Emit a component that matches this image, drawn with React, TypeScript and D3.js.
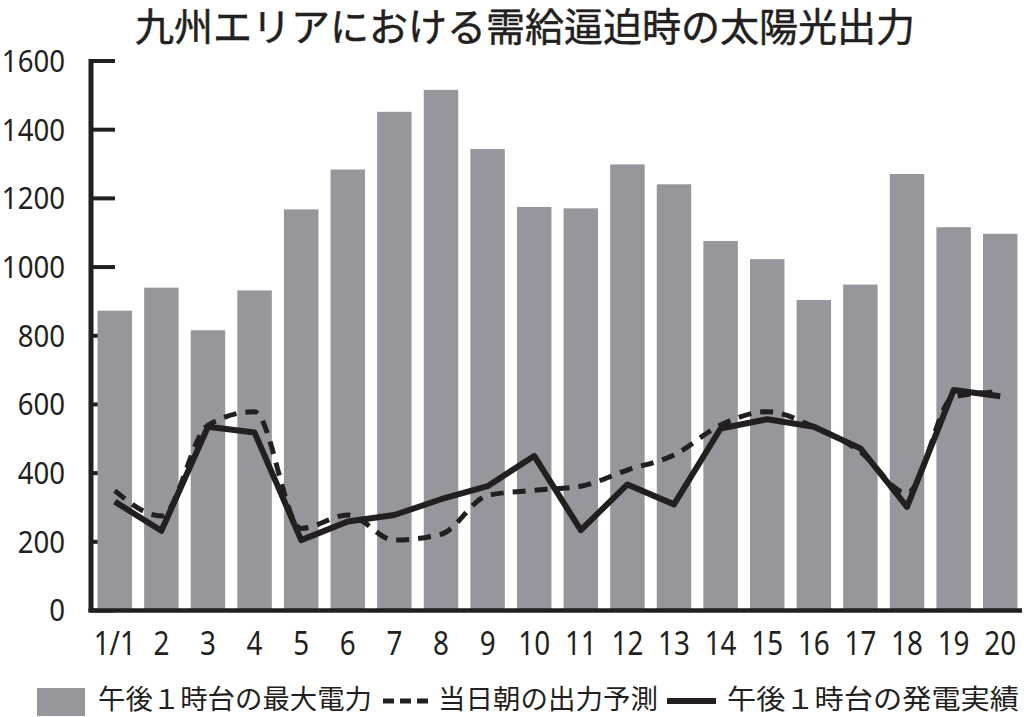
import React from "react";
import * as d3 from "d3";

const days = ["1/1", "2", "3", "4", "5", "6", "7", "8", "9", "10", "11", "12", "13", "14", "15", "16", "17", "18", "19", "20"];
const maxDemand = [873, 940, 816, 932, 1168, 1284, 1452, 1516, 1344, 1175, 1171, 1299, 1241, 1076, 1023, 904, 949, 1271, 1116, 1097];
const forecast = [349, 275, 540, 579, 239, 278, 205, 222, 335, 350, 362, 409, 453, 540, 579, 535, 462, 342, 622, 637];
const actual = [317, 232, 535, 518, 205, 259, 278, 324, 362, 450, 234, 367, 309, 530, 557, 535, 472, 302, 642, 624];
const yTicks = [0, 200, 400, 600, 800, 1000, 1200, 1400, 1600];

const title = "九州エリアにおける需給逼迫時の太陽光出力";
const legendLabels = ["午後１時台の最大電力", "当日朝の出力予測", "午後１時台の発電実績"];

const W = 1024;
const H = 717;
const INK = "#231f20";
const BAR = "#97969c";
const CJK = "'Noto Sans CJK JP', 'Noto Sans', sans-serif";
const NUM = "'Noto Sans', 'Open Sans', sans-serif";

export default function App() {
  const x = d3.scaleBand<string>().domain(days).range([91, 1024]).paddingInner(0.26).paddingOuter(0.14);
  const y = d3.scaleLinear().domain([0, 1600]).range([610.5, 61]);
  const cx = (i: number) => (x(days[i]) as number) + x.bandwidth() / 2;

  const solid = d3.line<number>().x((_, i) => cx(i)).y((d) => y(d)).curve(d3.curveLinear);
  const dashed = d3.line<number>().x((_, i) => cx(i)).y((d) => y(d)).curve(d3.curveMonotoneX);

  return (
    <div style={{ position: "absolute", left: 0, top: 0 }}>
      <svg width={W} height={H} style={{ display: "block", background: "#fff" }}>
        <text x={525} y={41} textAnchor="middle" fontFamily={CJK} fontSize={39} fill={INK}
          stroke={INK} strokeWidth={0.5}>{title}</text>

        {/* y ticks (inward) */}
        {yTicks.map((t) => (
          <g key={t}>
            <line x1={91} x2={115} y1={y(t)} y2={y(t)} stroke={INK} strokeWidth={4} />
            <text transform={`translate(65,${y(t)}) scale(0.92,1)`} dy="0.36em" textAnchor="end"
              fontFamily={NUM} fontSize={30} fill={INK}>{t}</text>
          </g>
        ))}

        {/* bars */}
        {maxDemand.map((v, i) => (
          <rect key={i} x={x(days[i])} y={y(v)} width={x.bandwidth()} height={y(0) - y(v)} fill={BAR} />
        ))}

        {/* axes */}
        <line x1={91} x2={91} y1={59} y2={612} stroke={INK} strokeWidth={5} />
        <line x1={88.5} x2={1022} y1={610.5} y2={610.5} stroke={INK} strokeWidth={4.5} />

        {/* x labels */}
        {days.map((d, i) => (
          <text key={d} transform={`translate(${cx(i)},655) scale(0.87,1)`} textAnchor="middle"
            fontFamily={NUM} fontSize={32} fill={INK}>{d}</text>
        ))}

        {/* lines */}
        <path d={dashed(forecast) as string} fill="none" stroke={INK} strokeWidth={5} strokeDasharray="13 9" />
        <path d={solid(actual) as string} fill="none" stroke={INK} strokeWidth={6} strokeLinejoin="round" />

        {/* legend */}
        <rect x={37} y={688} width={48} height={28} fill={BAR} />
        <text x={98} y={709} fontFamily={CJK} fontSize={27} fill={INK} textLength={274} lengthAdjust="spacingAndGlyphs">{legendLabels[0]}</text>
        <line x1={383} x2={429} y1={701} y2={701} stroke={INK} strokeWidth={5} strokeDasharray="11 6" />
        <text x={438} y={709} fontFamily={CJK} fontSize={27} fill={INK} textLength={220} lengthAdjust="spacingAndGlyphs">{legendLabels[1]}</text>
        <line x1={667} x2={716} y1={701} y2={701} stroke={INK} strokeWidth={6} />
        <text x={727} y={709} fontFamily={CJK} fontSize={27} fill={INK} textLength={292} lengthAdjust="spacingAndGlyphs">{legendLabels[2]}</text>
      </svg>
    </div>
  );
}
